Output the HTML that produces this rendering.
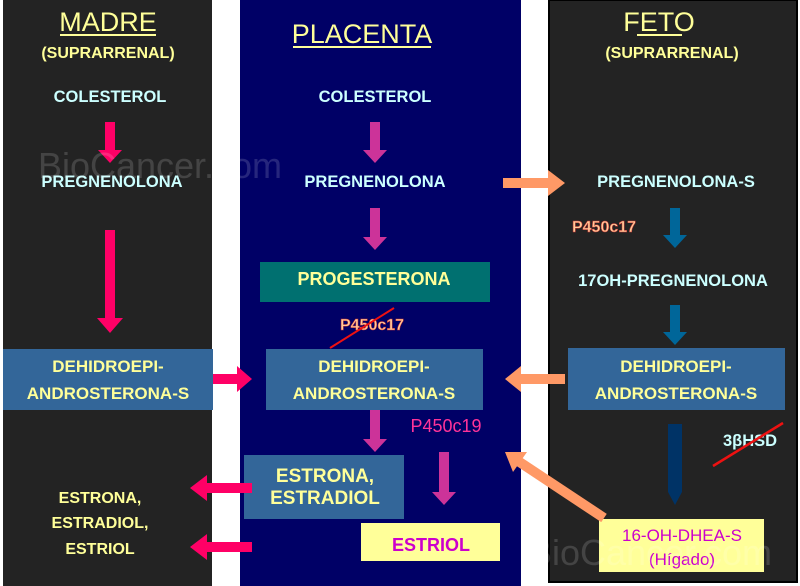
<!DOCTYPE html><html><head><style>body{margin:0;background:#fff}svg{display:block}text{font-family:"Liberation Sans",sans-serif;font-weight:bold;text-anchor:middle}</style></head><body>
<svg width="800" height="586" viewBox="0 0 800 586">
<rect x="3" y="0" width="209" height="586" fill="#232323"/>
<rect x="240" y="0" width="281" height="586" fill="#000066"/>
<rect x="549" y="0" width="248" height="582" fill="#232323" stroke="#000" stroke-width="2"/>
<rect x="3" y="349" width="210" height="61" fill="#336699"/>
<rect x="260" y="262" width="230" height="40" fill="#007070"/>
<rect x="266" y="349" width="217" height="61" fill="#336699"/>
<rect x="244" y="455" width="160" height="64" fill="#336699"/>
<rect x="361" y="523" width="139" height="38" fill="#ffff99"/>
<rect x="568" y="348" width="217" height="62" fill="#336699"/>
<rect x="599" y="519" width="165" height="53" fill="#ffff99"/>
<g fill="#cc3399">
<path d="M370 122h10v28h7l-12 13-12-13h7z"/>
<path d="M370 208h10v29h7l-12 13-12-13h7z"/>
<path d="M370 410h10v29h7l-12 13-12-13h7z"/>
<path d="M439 452h10v40h7l-12 13-12-13h7z"/>
</g>
<g fill="#ff0066">
<path d="M105 122h10v28h7l-12 13-12-13h7z"/>
<path d="M105 230h10v88h8l-13 15-13-15h8z"/>
<path d="M213 374h24v-8l15 13-15 13v-8h-24z"/>
<path d="M252 483h-45v-8l-17 13 17 13v-8h45z"/>
<path d="M252 542h-45v-8l-17 13 17 13v-8h45z"/>
</g>
<g fill="#ff9966">
<path d="M503 178h45v-8l17 13-17 13v-8h-45z"/>
<path d="M565 374h-44v-8l-16 13 16 13v-8h44z"/>
<line x1="604" y1="518" x2="518" y2="461" stroke="#ff9966" stroke-width="10"/>
<path d="M505 452L527 452L513 472z"/>
</g>
<g fill="#006699">
<path d="M670 208h10v27h7l-12 13-12-13h7z"/>
<path d="M670 305h10v27h7l-12 13-12-13h7z"/>
</g>
<path d="M668 424h14v68l-7 13-7-13z" fill="#003366"/>
<g fill="#ffff99">
<text x="108" y="31" font-size="27" style="font-weight:normal">MADRE</text>
<rect x="60" y="34" width="96" height="2"/>
<text x="108" y="58" font-size="16">(SUPRARRENAL)</text>
<text x="362" y="43" font-size="27" style="font-weight:normal">PLACENTA</text>
<rect x="293" y="46" width="138" height="2"/>
<text x="659" y="31" font-size="27" style="font-weight:normal">FETO</text>
<rect x="637" y="34" width="45" height="2"/>
<text x="672" y="58" font-size="16">(SUPRARRENAL)</text>
<text x="108" y="372" font-size="17">DEHIDROEPI-</text>
<text x="108" y="399" font-size="17">ANDROSTERONA-S</text>
<text x="374" y="285" font-size="18">PROGESTERONA</text>
<text x="374" y="372" font-size="17">DEHIDROEPI-</text>
<text x="374" y="399" font-size="17">ANDROSTERONA-S</text>
<text x="325" y="482" font-size="19">ESTRONA,</text>
<text x="325" y="504" font-size="19">ESTRADIOL</text>
<text x="676" y="372" font-size="17">DEHIDROEPI-</text>
<text x="676" y="399" font-size="17">ANDROSTERONA-S</text>
<text x="100" y="503" font-size="16">ESTRONA,</text>
<text x="100" y="528" font-size="16">ESTRADIOL,</text>
<text x="100" y="554" font-size="16">ESTRIOL</text>
</g>
<g fill="#ccffff" font-size="16.5">
<text x="110" y="102">COLESTEROL</text>
<text x="112" y="187">PREGNENOLONA</text>
<text x="375" y="102">COLESTEROL</text>
<text x="375" y="187">PREGNENOLONA</text>
<text x="676" y="187">PREGNENOLONA-S</text>
<text x="673" y="286">17OH-PREGNENOLONA</text>
<text x="750" y="446">3βHSD</text>
</g>
<text x="372" y="330" font-size="16" fill="#ffcc99" stroke="#cc3333" stroke-width="0.5">P450c17</text>
<text x="604" y="232" font-size="16" fill="#ffcc99" stroke="#cc3333" stroke-width="0.5">P450c17</text>
<text x="446" y="432" font-size="18" fill="#ff3399" style="font-weight:normal">P450c19</text>
<line x1="330" y1="348" x2="394" y2="308" stroke="#ee1111" stroke-width="2"/>
<line x1="713" y1="466" x2="783" y2="423" stroke="#ee1111" stroke-width="2.5"/>
<text x="431" y="551" font-size="18" fill="#cc00cc">ESTRIOL</text>
<text x="682" y="541" font-size="17" fill="#cc00cc" style="font-weight:normal">16-OH-DHEA-S</text>
<text x="682" y="565" font-size="17" fill="#cc00cc" style="font-weight:normal">(Hígado)</text>
<text x="160" y="178" font-size="36" fill="#ffffff" opacity="0.15" style="font-weight:normal">BioCancer.com</text>
<text x="650" y="565" font-size="36" fill="#ffffff" opacity="0.15" style="font-weight:normal">BioCancer.com</text>
</svg></body></html>
